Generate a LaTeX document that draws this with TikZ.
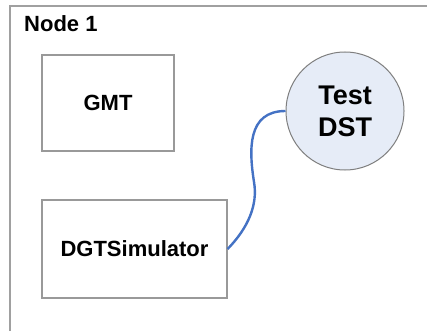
\documentclass[tikz,border=0pt]{standalone}
\usepackage{fontspec}
\setmainfont{Liberation Sans}
\definecolor{framegray}{HTML}{A0A0A0}
\definecolor{boxgray}{HTML}{999999}
\definecolor{circlegray}{HTML}{7F7F7F}
\definecolor{circlefill}{HTML}{E6ECF7}
\definecolor{linkblue}{HTML}{4472C4}
\begin{document}
\begin{tikzpicture}[x=1pt,y=-1pt,
  lbl/.style={font=\fontsize{22}{26}\selectfont\bfseries},
  box/.style={draw=boxgray, line width=1.2pt, fill=white, inner sep=0pt, lbl},
  dstcircle/.style={circle, draw=circlegray, line width=1pt, fill=circlefill,
    minimum size=118pt, inner sep=0pt, align=center,
    font=\fontsize{27}{32}\selectfont\bfseries},
  link/.style={draw=linkblue, line width=2.4pt}]
  \useasboundingbox (0,0) rectangle (427,331);

  % host frame
  \draw[framegray, line width=1.5pt] (10,331) -- (10,6) -- (427,6);
  \node[lbl, anchor=base west, inner sep=0pt] (host) at (24,32) {Node 1};

  % components
  \node[box, minimum width=132pt, minimum height=96pt] (gmt) at (108,103) {GMT};
  \node[box, minimum width=185pt, minimum height=98pt] (dgt) at (134.5,249) {DGTSimulator};
  \node[dstcircle] (dst) at (345,111) {Test\\DST};

  % connection
  \coordinate (bend) at (254,182);
  \draw[link] (dgt.east) .. controls (248,228) and (258,205) .. (bend)
              .. controls (249,150) and (247,111) .. (dst.west);
\end{tikzpicture}
\end{document}
